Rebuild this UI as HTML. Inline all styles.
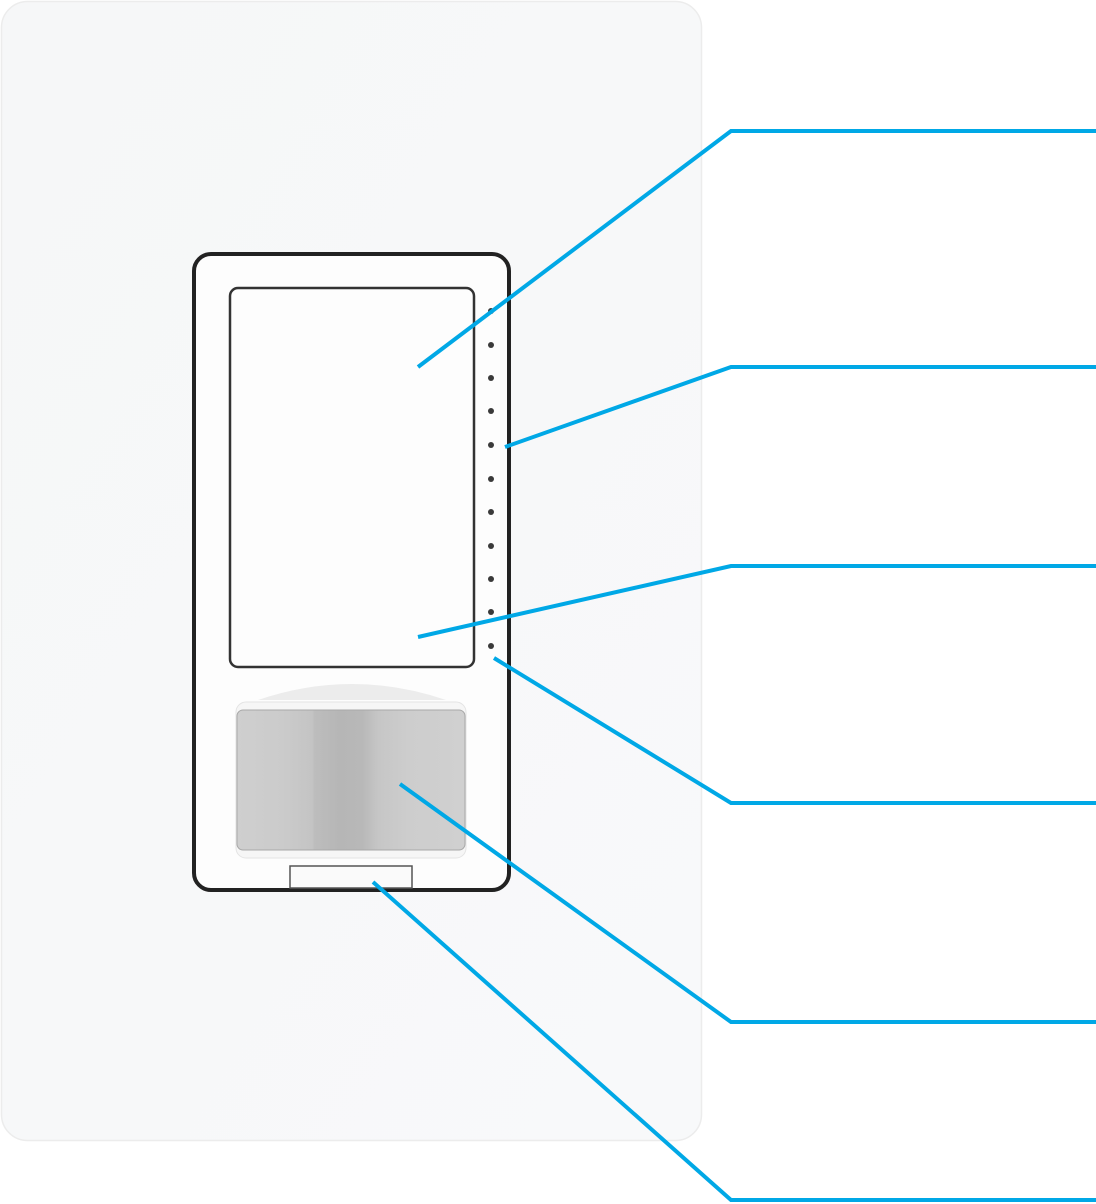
<!DOCTYPE html>
<html><head><meta charset="utf-8"><style>
html,body{margin:0;padding:0;background:#fff;width:1096px;height:1204px;overflow:hidden}
</style></head><body>
<svg width="1096" height="1204" viewBox="0 0 1096 1204" xmlns="http://www.w3.org/2000/svg">
<defs>
<linearGradient id="plate" x1="0" y1="0" x2="1" y2="1">
<stop offset="0" stop-color="#f6f7f8"/><stop offset="1" stop-color="#f8f9fa"/></linearGradient>
<linearGradient id="lens" x1="0" y1="0" x2="1" y2="0">
<stop offset="0" stop-color="#cfcfcf"/><stop offset="0.2" stop-color="#cbcbcb"/><stop offset="0.33" stop-color="#c4c4c4"/><stop offset="0.34" stop-color="#bdbdbd"/><stop offset="0.45" stop-color="#b6b6b6"/><stop offset="0.55" stop-color="#b8b8b8"/><stop offset="0.62" stop-color="#c6c6c6"/><stop offset="0.75" stop-color="#cdcdcd"/><stop offset="1" stop-color="#d0d0d0"/></linearGradient>
<linearGradient id="hood" x1="0" y1="0" x2="0" y2="1">
<stop offset="0" stop-color="#f9f9f9"/><stop offset="1" stop-color="#ececec"/></linearGradient>
</defs>
<rect x="1.5" y="1.5" width="700" height="1139" rx="26" fill="url(#plate)" stroke="#ececec" stroke-width="1.5"/>
<rect x="194" y="254" width="315" height="636" rx="17" fill="#fdfdfd" stroke="#222" stroke-width="4"/>
<rect x="229" y="287" width="245" height="381" rx="9" fill="#ddd"/>
<rect x="230" y="288" width="244" height="379" rx="8" fill="#fdfdfd" stroke="#333" stroke-width="2.5"/>
<g fill="#3a3a3a">
<circle cx="491" cy="311" r="3"/><circle cx="491" cy="345" r="3"/><circle cx="491" cy="378" r="3"/><circle cx="491" cy="411" r="3"/><circle cx="491" cy="445" r="3"/><circle cx="491" cy="479" r="3"/><circle cx="491" cy="512" r="3"/><circle cx="491" cy="546" r="3"/><circle cx="491" cy="579" r="3"/><circle cx="491" cy="612" r="3"/><circle cx="491" cy="646" r="3"/>
</g>
<path d="M258 700 Q352 668 446 700 Z" fill="#ececec"/>
<rect x="236" y="702" width="230" height="156" rx="10" fill="#f6f6f6" stroke="#e4e4e4" stroke-width="1"/>
<rect x="237" y="710" width="228" height="140" rx="6" fill="url(#lens)" stroke="#a8a8a8" stroke-width="1"/>
<rect x="290" y="866" width="122" height="22" fill="#fafafa" stroke="#555" stroke-width="1.5"/>
<g fill="none" stroke="#00a8e6" stroke-width="4" stroke-linejoin="miter">
<polyline points="418,367 731,131 1096,131"/>
<polyline points="505,447 731,367 1096,367"/>
<polyline points="418,637 731,566 1096,566"/>
<polyline points="494,658 731,803 1096,803"/>
<polyline points="400,784 731,1022 1096,1022"/>
<polyline points="373,882 731,1200 1096,1200"/>
</g>
</svg>
</body></html>
